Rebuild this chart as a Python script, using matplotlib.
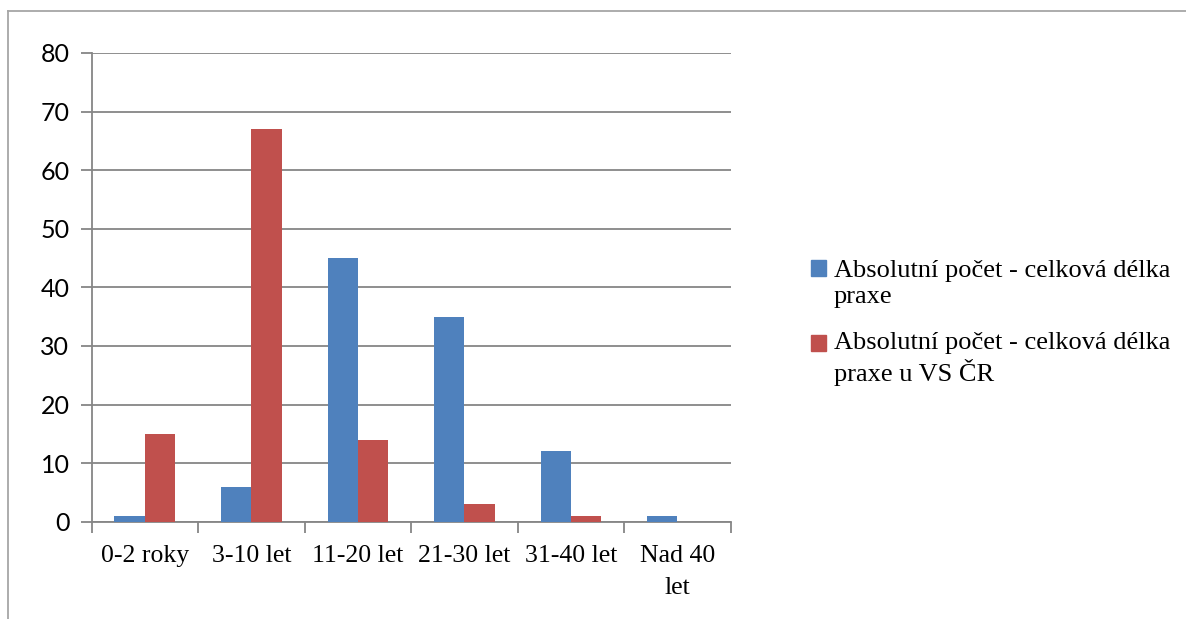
import matplotlib.pyplot as plt
import numpy as np
from matplotlib.lines import Line2D
from matplotlib.patches import Patch, Rectangle
from matplotlib.legend_handler import HandlerPatch

# -----------------------------
# DATA
# -----------------------------
categories = ["0-2 roky", "3-10 let", "11-20 let", "21-30 let", "31-40 let", "Nad 40\nlet"]
celkova = [1, 6, 45, 35, 12, 1]
celkova_vs = [15, 67, 14, 3, 1, 0]
labels = ["Absolutní počet - celková délka\npraxe",
          "Absolutní počet - celková délka\npraxe u VS ČR"]

BLUE = "#4f81bd"
RED = "#c0504d"
GRID = "#868686"

fig = plt.figure(figsize=(11.86, 6.19), dpi=100)
ax = fig.add_axes([0.0773, 0.1572, 0.5388, 0.7572])

x = np.arange(len(categories))
w = 1 / 3.5
ax.bar(x - w / 2, celkova, w, color=BLUE, zorder=3)
ax.bar(x + w / 2, celkova_vs, w, color=RED, zorder=3)

ax.set_xlim(-0.5, len(categories) - 0.5)
ax.set_ylim(0, 80)
ax.set_yticks(range(0, 81, 10))
ax.yaxis.grid(True, color=GRID, linewidth=1.3, zorder=0)
for s in ["top", "right"]:
    ax.spines[s].set_visible(False)
for s in ["left", "bottom"]:
    ax.spines[s].set_color(GRID)
    ax.spines[s].set_linewidth(1.3)

# category ticks at boundaries
ax.set_xticks(np.arange(len(categories) + 1) - 0.5)
ax.set_xticklabels([])
ax.set_xticks(x, minor=True)
ax.set_xticklabels(categories, minor=True, family="Liberation Serif", fontsize=18.5,
                   linespacing=1.55, va="top")
ax.tick_params(axis="x", which="minor", length=0, pad=17)
ax.tick_params(axis="x", which="major", length=8, color=GRID, width=1.3)
ax.tick_params(axis="y", length=8, color=GRID, width=1.3, labelsize=18, pad=8)
for t in ax.get_yticklabels():
    t.set_family("Lato")


# legend square aligned with the first text line (Excel style)
def first_line_square(legend, orig_handle, xdescent, ydescent, width, height, fontsize):
    return Rectangle((-xdescent, -ydescent + 11), width, height)


handles = [Patch(color=BLUE), Patch(color=RED)]
leg = fig.legend(handles, labels, loc="center left", bbox_to_anchor=(0.664, 0.478),
                 frameon=False, prop={"family": "Liberation Serif", "size": 19},
                 handlelength=0.55, handleheight=0.55, handletextpad=0.3,
                 labelspacing=0.9,
                 handler_map={Patch: HandlerPatch(patch_func=first_line_square)})
for t in leg.get_texts():
    t.set_linespacing(1.24)

# outer frame (left + top)
fig.add_artist(Line2D([0.0065, 0.0065], [0.0, 0.983], color="#a6a6a6", linewidth=1.3))
fig.add_artist(Line2D([0.0065, 1.0], [0.983, 0.983], color="#a6a6a6", linewidth=1.3))

fig.savefig("out.png", dpi=100)
